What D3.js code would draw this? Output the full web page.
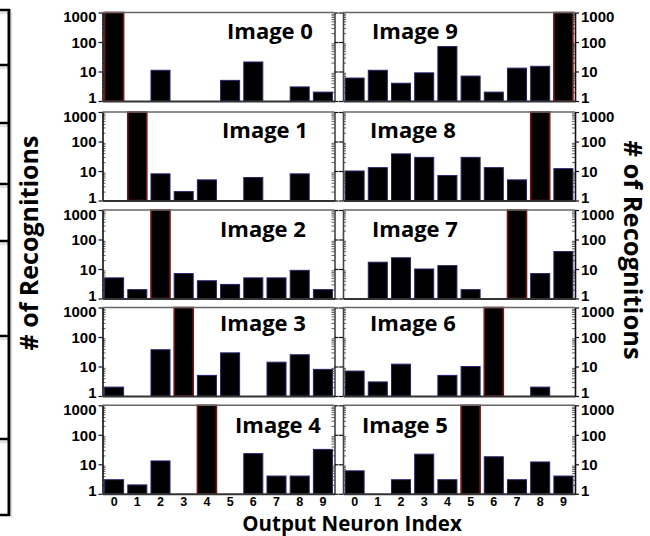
<!DOCTYPE html>
<html>
<head>
<meta charset="utf-8">
<script src="https://cdn.jsdelivr.net/npm/d3@7"></script>
<style>
  html, body { margin: 0; padding: 0; background: #fff; }
  svg { display: block; }
</style>
</head>
<body>
<svg id="chart" width="650" height="536"></svg>
<script>
// ---------- DATA ----------
const neurons = ["0","1","2","3","4","5","6","7","8","9"];
const yTickValues = [1, 10, 100, 1000];
const yTickLabels = ["1", "10", "100", "1000"];
const panelTitles = ["Image 0","Image 1","Image 2","Image 3","Image 4",
                     "Image 9","Image 8","Image 7","Image 6","Image 5"];
const image0 = [1000, 0, 11, 0, 0, 5, 21, 0, 3, 2];
const image1 = [0, 1000, 8, 2, 5, 0, 6, 0, 8, 0];
const image2 = [5, 2, 1000, 7, 4, 3, 5, 5, 9, 2];
const image3 = [2, 0, 37, 1000, 5, 29, 0, 14, 25, 8];
const image4 = [3, 2, 13, 0, 1000, 0, 23, 4, 4, 32];
const image5 = [6, 0, 3, 22, 3, 1000, 18, 3, 12, 4];
const image6 = [7, 3, 12, 0, 5, 10, 1000, 0, 2, 0];
const image7 = [0, 17, 24, 10, 13, 2, 0, 1000, 7, 39];
const image8 = [10, 13, 38, 29, 7, 29, 13, 5, 1000, 12];
const image9 = [6, 11, 4, 9, 70, 7, 2, 13, 15, 1000];
const yLabel = "# of Recognitions";
const xLabel = "Output Neuron Index";

// ---------- LAYOUT ----------
const colX = [102.5, 343];
const panelW = 232;
const rowTop = [12.5, 112, 210, 307.5, 405.3];
const panelH = 88.5;
const titleX = [[227, 222, 220, 220, 235], [372, 370, 372, 370, 362]];
const titleDy = [26.5, 26, 26.7, 23, 27.5];
const panelSeries = [
  [image0, image1, image2, image3, image4],
  [image9, image8, image7, image6, image5]
];
const fragY = [10, 65, 123, 184, 241, 336, 439, 515];

const svg = d3.select("#chart");

// fragment of neighbouring figure on the far left
const frag = svg.append("g");
frag.selectAll("line.sh").data(fragY.slice(0, -1)).join("line")
  .attr("x1", 0).attr("x2", 8).attr("y1", d => d + 3).attr("y2", d => d + 3)
  .attr("stroke", "#e2e2e2").attr("stroke-width", 2.5);
frag.selectAll("line.h").data(fragY).join("line")
  .attr("x1", 0).attr("x2", 10).attr("y1", d => d).attr("y2", d => d)
  .attr("stroke", "#000").attr("stroke-width", 2.5);
frag.append("line").attr("x1", 9).attr("x2", 9)
  .attr("y1", fragY[0] - 1).attr("y2", fragY[fragY.length - 1] + 1)
  .attr("stroke", "#000").attr("stroke-width", 3);
frag.append("line").attr("x1", 11.5).attr("x2", 11.5)
  .attr("y1", fragY[0] + 2).attr("y2", fragY[fragY.length - 1] + 3)
  .attr("stroke", "#ddd").attr("stroke-width", 1.5);

const minorVals = [];
for (let dec = 1; dec < 1000; dec *= 10) {
  for (let k = 2; k <= 9; k++) minorVals.push(dec * k);
}

for (let c = 0; c < 2; c++) {
  for (let r = 0; r < 5; r++) {
    const data = panelSeries[c][r];
    const x0 = colX[c], y0 = rowTop[r];
    const x = d3.scaleBand().domain(neurons).range([x0, x0 + panelW])
      .paddingInner(0.18).paddingOuter(0.09);
    const y = d3.scaleLog().domain([1, 1000]).range([y0 + panelH, y0]);
    const g = svg.append("g");
    const maxV = d3.max(data);

    // bars
    g.selectAll("rect.bar").data(data.map((v, i) => ({ v, i })).filter(d => d.v > 1))
      .join("rect")
      .attr("x", d => x(neurons[d.i]))
      .attr("width", x.bandwidth())
      .attr("y", d => y(d.v))
      .attr("height", d => y(1) - y(d.v))
      .attr("fill", "#000")
      .attr("stroke", d => d.v === maxV ? "#7a1212" : "#23236e")
      .attr("stroke-width", d => d.v === maxV ? 1.6 : 1);

    // frame top
    g.append("line").attr("x1", x0).attr("x2", x0 + panelW)
      .attr("y1", y0).attr("y2", y0).attr("stroke", "#666").attr("stroke-width", 1.6);

    // minor ticks inside (left & right)
    g.append("g").attr("transform", `translate(${x0},0)`)
      .call(d3.axisLeft(y).tickValues(minorVals).tickSize(-3).tickFormat(""))
      .call(s => s.select(".domain").remove())
      .call(s => s.selectAll("line").attr("stroke", "#333").attr("stroke-width", 0.8));
    g.append("g").attr("transform", `translate(${x0 + panelW},0)`)
      .call(d3.axisRight(y).tickValues(minorVals).tickSize(-3).tickFormat(""))
      .call(s => s.select(".domain").remove())
      .call(s => s.selectAll("line").attr("stroke", "#333").attr("stroke-width", 0.8));

    // major ticks
    const leftAx = d3.axisLeft(y).tickValues(yTickValues).tickSizeInner(4).tickSizeOuter(0).tickPadding(2)
      .tickFormat((d, i) => c === 0 ? yTickLabels[i] : "");
    const rightAx = d3.axisRight(y).tickValues(yTickValues).tickSizeInner(4).tickSizeOuter(0).tickPadding(2)
      .tickFormat((d, i) => c === 1 ? yTickLabels[i] : "");
    const gl = g.append("g").attr("transform", `translate(${x0},0)`).call(leftAx);
    const gr = g.append("g").attr("transform", `translate(${x0 + panelW},0)`).call(rightAx);
    [gl, gr].forEach(ax => {
      ax.select(".domain").attr("stroke", c === 0 && ax === gr || c === 1 && ax === gl ? "#444" : "#111")
        .attr("stroke-width", 1.6);
      ax.selectAll(".tick line").attr("stroke", "#111").attr("stroke-width", 1.2);
      ax.selectAll(".tick text")
        .attr("font-family", "'Liberation Sans', Arial, sans-serif")
        .attr("font-weight", "bold").attr("font-size", "15px").attr("fill", "#000")
        .attr("dy", d => d === 1000 ? "0.62em" : d === 1 ? "0.1em" : "0.36em");
    });

    // bottom axis
    const bx = d3.axisBottom(x).tickSize(0).tickPadding(3)
      .tickFormat(d => r === 4 ? d : "");
    const gb = g.append("g").attr("transform", `translate(0,${y0 + panelH})`).call(bx);
    gb.select(".domain").attr("stroke", "#333").attr("stroke-width", 2);
    gb.selectAll("text")
      .attr("font-family", "'Liberation Sans', Arial, sans-serif")
      .attr("font-weight", "bold").attr("font-size", "12.5px").attr("fill", "#000");

    // title
    g.append("text")
      .attr("x", titleX[c][r]).attr("y", y0 + titleDy[r])
      .attr("font-family", "'Open Sans', sans-serif").attr("font-weight", "bold")
      .attr("font-size", "22px").attr("fill", "#000")
      .text(panelTitles[c * 5 + r]);
  }
}

// axis titles
svg.append("text")
  .attr("transform", "translate(38,243) rotate(-90)")
  .attr("text-anchor", "middle")
  .attr("font-family", "'Open Sans', sans-serif").attr("font-weight", "bold")
  .attr("font-size", "25px").attr("fill", "#000")
  .text(yLabel);
svg.append("text")
  .attr("transform", "translate(624,250) rotate(90)")
  .attr("text-anchor", "middle")
  .attr("font-family", "'Open Sans', sans-serif").attr("font-weight", "bold")
  .attr("font-size", "25.5px").attr("fill", "#000")
  .text(yLabel);
svg.append("text")
  .attr("x", 352).attr("y", 530.5)
  .attr("text-anchor", "middle")
  .attr("font-family", "'Open Sans', sans-serif").attr("font-weight", "bold")
  .attr("font-size", "20.5px").attr("fill", "#000")
  .text(xLabel);
</script>
</body>
</html>
